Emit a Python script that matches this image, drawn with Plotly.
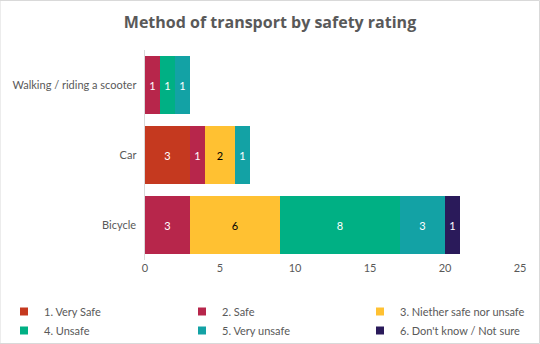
import plotly.graph_objects as go

categories = ["Bicycle", "Car", "Walking / riding a scooter"]
series_names = ["1. Very Safe", "2. Safe", "3. Niether safe nor unsafe",
                "4. Unsafe", "5. Very unsafe", "6. Don't know / Not sure"]
very_safe = [None, 3, None]
safe = [3, 1, 1]
neither = [6, 2, None]
unsafe = [8, None, 1]
very_unsafe = [3, 1, 1]
dont_know = [1, None, None]
x_ticks = [0, 5, 10, 15, 20, 25]

values = [very_safe, safe, neither, unsafe, very_unsafe, dont_know]
colors = ["#C5391F", "#B7264B", "#FFC132", "#00B084", "#13A2A5", "#2A1A5A"]
text_colors = ["white", "white", "black", "white", "white", "white"]
legend_ids = ["legend", "legend2", "legend3", "legend", "legend2", "legend3"]

fig = go.Figure()
for name, vals, c, tc in zip(series_names, values, colors, text_colors):
    fig.add_trace(go.Bar(
        y=categories, x=vals, name=name, orientation="h",
        marker=dict(color=c, line=dict(width=0)),
        text=[str(v) if v else "" for v in vals],
        textposition="inside", insidetextanchor="middle",
        textfont=dict(color=tc, size=11, family="Lato"),
        hoverinfo="skip", showlegend=False,
    ))
# legend entries with small square markers, one legend per column
for name, c, lg in zip(series_names, colors, legend_ids):
    fig.add_trace(go.Scatter(
        x=[None], y=[None], mode="markers", name=name, legend=lg,
        marker=dict(symbol="square", size=8, color=c),
        hoverinfo="skip", showlegend=True,
    ))

leg_common = dict(orientation="v", xref="container", yref="container",
                  xanchor="left", y=1 - 297 / 344, yanchor="top",
                  font=dict(size=11, color="#595959"), traceorder="normal",
                  itemclick=False, bgcolor="rgba(0,0,0,0)", tracegroupgap=0)

fig.update_layout(
    barmode="stack",
    width=540, height=344,
    margin=dict(l=145, r=20, t=50, b=84, autoexpand=False),
    paper_bgcolor="white", plot_bgcolor="white",
    bargap=0.16,
    title=dict(text="<b>Method of transport by safety rating</b>",
               x=0.5, xanchor="center", y=1 - 22 / 344, yanchor="middle",
               font=dict(family="Open Sans", size=16, color="#595959")),
    font=dict(family="Lato", size=11, color="#595959"),
    xaxis=dict(range=[0, 25], tickvals=x_ticks, showgrid=False, zeroline=False,
               showline=False, ticks="", tickfont=dict(size=11, color="#595959")),
    yaxis=dict(showgrid=False, zeroline=False, showline=True, linecolor="#D9D9D9",
               linewidth=1, ticks="", ticksuffix="  ",
               tickfont=dict(size=11, color="#595959")),
    legend=dict(x=4 / 540, **leg_common),
    legend2=dict(x=182 / 540, **leg_common),
    legend3=dict(x=360 / 540, **leg_common),
    showlegend=True,
)

fig.add_shape(type="rect", xref="paper", yref="paper",
              x0=-145 / 375, x1=1 + 19.5 / 375, y0=-83.5 / 210, y1=1 + 49.5 / 210,
              line=dict(color="#D9D9D9", width=1), fillcolor="rgba(0,0,0,0)", layer="below")

fig.write_html("out.html")
